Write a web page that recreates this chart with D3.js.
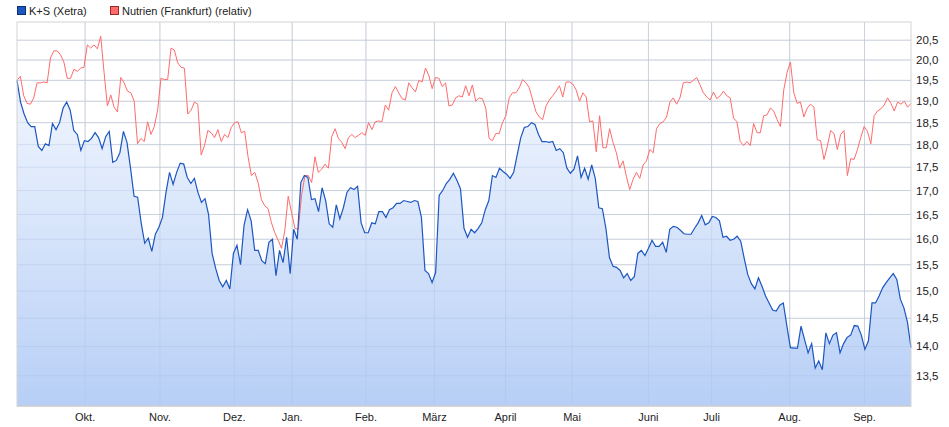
<!DOCTYPE html>
<html>
<head>
<meta charset="utf-8">
<script src="https://cdn.jsdelivr.net/npm/d3@7"></script>
<style>
  body { margin: 0; background: #fff; font-family: "Liberation Sans", Arial, sans-serif; }
</style>
</head>
<body>
<svg id="chart" width="949" height="427"></svg>
<script>
// K+S (Xetra), values in EUR, one per trading day (approx.)
const ksValues = [19.5,18.98,18.7,18.5,18.41,18.41,17.96,17.87,18.02,17.98,18.48,18.34,18.5,18.84,18.98,18.79,18.32,18.23,17.87,18.09,18.07,18.14,18.27,18.16,17.91,18.18,18.3,17.61,17.65,17.82,18.3,18.05,17.48,16.88,16.86,16.33,15.92,16.02,15.76,16.1,16.24,16.44,16.96,17.39,17.13,17.39,17.59,17.57,17.28,17.15,17.26,16.96,16.75,16.83,16.5,15.72,15.43,15.2,15.08,15.2,15.04,15.72,15.88,15.5,16.28,16.6,16.37,15.78,
  15.78,15.58,15.52,15.94,16.0,15.29,15.78,15.54,16.04,15.33,16.2,16.0,17.17,17.32,17.28,16.81,16.83,16.56,17.06,16.79,16.31,16.24,16.7,16.41,16.64,16.96,17.06,17.02,17.09,16.33,16.13,16.13,16.33,16.31,16.56,16.56,16.44,16.6,16.64,16.73,16.73,16.79,16.77,16.75,16.79,16.77,16.44,15.39,15.33,15.16,15.35,16.9,17.0,17.15,
  17.24,17.37,17.22,17.04,16.22,16.04,16.2,16.13,16.22,16.33,16.6,16.79,17.32,17.28,17.48,17.41,17.35,17.26,17.39,17.77,18.16,18.39,18.41,18.5,18.46,18.23,18.07,18.07,18.05,18.07,17.87,17.91,17.82,17.48,17.37,17.46,17.75,17.28,17.48,17.24,17.55,17.26,16.64,16.62,16.22,15.64,15.47,15.45,15.39,15.25,15.33,15.2,15.27,15.72,15.78,15.68,15.82,15.98,15.86,15.86,15.94,15.74,16.2,16.26,16.24,16.18,16.11,
  16.1,16.1,16.22,16.33,16.48,16.29,16.33,16.46,16.44,16.37,16.04,16.06,15.98,16.0,16.06,15.96,15.62,15.31,15.14,15.04,15.25,15.09,14.91,14.78,14.65,14.63,14.74,14.78,14.37,13.98,13.97,13.97,14.36,14.12,13.89,14.05,13.63,13.75,13.6,14.24,14.05,14.2,14.24,13.89,14.05,14.16,14.2,14.37,14.36,14.2,13.95,14.1,14.78,14.78,14.91,15.06,15.16,15.25,15.33,15.22,14.85,14.69,14.43,13.98];

// Nutrien (Frankfurt), relative to K+S start
const nutrienValues = [19.5,19.6,19.13,18.95,18.93,19.08,19.44,19.44,19.46,19.44,20.05,20.23,20.23,20.13,19.95,19.55,19.55,19.77,19.72,19.8,19.82,20.38,20.3,20.38,20.28,20.6,19.7,18.89,19.15,18.86,18.75,19.57,19.44,19.24,19.2,19.0,18.02,18.14,18.07,18.52,18.23,18.41,18.79,19.55,19.52,19.52,20.3,20.25,19.93,19.82,19.8,18.7,18.79,18.98,18.93,17.77,17.98,18.32,18.27,18.16,18.34,18.07,18.23,18.16,18.39,18.5,18.52,18.27,
  18.3,17.73,17.32,17.39,17.17,16.81,16.68,16.62,16.33,16.13,15.98,15.82,16.18,16.88,16.54,16.22,16.2,16.9,17.32,17.32,17.17,17.73,17.39,17.46,17.57,17.48,18.18,18.36,18.14,18.05,17.91,18.16,18.23,18.16,18.21,18.27,18.21,18.5,18.34,18.52,18.54,18.52,18.91,18.79,19.2,19.35,19.2,19.06,19.03,19.44,19.32,19.22,19.5,19.46,19.8,19.62,19.3,19.57,19.55,19.35,19.44,18.89,18.91,19.08,19.13,19.1,19.37,19.13,
  19.39,19.0,19.08,19.06,18.84,18.14,18.09,18.25,18.25,18.5,18.66,19.08,19.2,19.2,19.32,19.52,19.44,19.32,19.03,18.75,18.63,18.57,18.89,19.03,19.13,19.24,19.37,19.1,19.46,19.46,19.41,19.27,19.0,19.2,19.1,18.52,18.54,17.84,18.66,17.93,17.93,18.36,18.05,17.82,17.48,17.64,17.3,17.02,17.24,17.39,17.26,17.55,17.64,17.89,17.82,18.36,18.48,18.52,18.63,18.98,19.08,18.93,19.08,19.44,19.46,19.44,19.5,19.57,
  19.39,19.2,19.1,19.03,19.22,19.06,19.13,19.24,19.13,19.08,18.61,18.52,18.07,17.98,18.07,17.98,18.48,18.27,18.27,18.66,18.68,18.84,18.77,18.57,18.41,19.27,19.7,19.95,19.2,18.95,18.98,18.63,18.84,18.93,18.86,18.11,18.09,17.67,17.96,18.32,18.25,17.89,18.23,18.32,17.32,17.69,17.67,17.89,18.16,18.41,18.3,18.02,18.66,18.77,18.82,18.91,19.08,18.95,18.77,18.98,18.93,19.0,18.86,18.95];

const tradingDays = 269;
const monthLabels = ["Okt.", "Nov.", "Dez.", "Jan.", "Feb.", "März", "April", "Mai", "Juni", "Juli", "Aug.", "Sep."];
const monthStarts = [20.5, 43, 65.4, 82.8, 105, 125.6, 147, 167, 190, 209, 232.5, 255];
const yTicks = [13.5, 14, 14.5, 15, 15.5, 16, 16.5, 17, 17.5, 18, 18.5, 19, 19.5, 20, 20.5];

const margin = { top: 22, right: 38, bottom: 21, left: 17 };
const width = 949 - margin.left - margin.right;
const height = 427 - margin.top - margin.bottom;

const svg = d3.select("#chart");
const g = svg.append("g").attr("transform", `translate(${margin.left},${margin.top})`);

const x = d3.scaleLinear().domain([0, tradingDays]).range([0, width]);
const y = d3.scaleLog().domain([13.0, 20.97]).range([height, 0]);

const fmt = v => d3.format(".1f")(v).replace(".", ",");

// gradient for area under K+S
const grad = svg.append("defs").append("linearGradient")
    .attr("id", "ksFill").attr("x1", 0).attr("y1", 0).attr("x2", 0).attr("y2", 1)
    .attr("gradientUnits", "userSpaceOnUse")
    .attr("y1", y(18.5)).attr("y2", height);
grad.append("stop").attr("offset", 0).attr("stop-color", "#eaf1fd");
grad.append("stop").attr("offset", 1).attr("stop-color", "#b7cff6");

// grid
g.selectAll(".hgrid").data(yTicks).enter().append("line")
    .attr("x1", 0).attr("x2", width)
    .attr("y1", d => y(d)).attr("y2", d => y(d))
    .attr("stroke", "#dcdcdc");
g.selectAll(".vgrid").data(monthStarts).enter().append("line")
    .attr("x1", d => x(d)).attr("x2", d => x(d))
    .attr("y1", 0).attr("y2", height)
    .attr("stroke", "#dcdcdc");

const ksX = d3.scaleLinear().domain([0, ksValues.length - 1]).range([0, tradingDays]);
const nuX = d3.scaleLinear().domain([0, nutrienValues.length - 1]).range([0, tradingDays]);

const area = d3.area()
    .x((d, i) => x(ksX(i)))
    .y0(height)
    .y1(d => y(d));
g.append("path").datum(ksValues).attr("d", area).attr("fill", "url(#ksFill)");

// redraw grid lines faintly over the fill
g.selectAll(".hgrid2").data(yTicks).enter().append("line")
    .attr("x1", 0).attr("x2", width)
    .attr("y1", d => y(d)).attr("y2", d => y(d))
    .attr("stroke", "#a9bde0").attr("stroke-opacity", 0.35);
g.selectAll(".vgrid2").data(monthStarts).enter().append("line")
    .attr("x1", d => x(d)).attr("x2", d => x(d))
    .attr("y1", 0).attr("y2", height)
    .attr("stroke", "#a9bde0").attr("stroke-opacity", 0.35);

g.append("path").datum(nutrienValues)
    .attr("d", d3.line().x((d, i) => x(nuX(i))).y(d => y(d)))
    .attr("fill", "none").attr("stroke", "#ff6b6b").attr("stroke-width", 1);

g.append("path").datum(ksValues)
    .attr("d", d3.line().x((d, i) => x(ksX(i))).y(d => y(d)))
    .attr("fill", "none").attr("stroke", "#1c56c0").attr("stroke-width", 1.2);

// frame
g.append("rect").attr("width", width).attr("height", height)
    .attr("fill", "none").attr("stroke", "#d4d4d4");
g.append("line").attr("x1", 0).attr("x2", width).attr("y1", height).attr("y2", height)
    .attr("stroke", "#c8c8c8");

// y labels (right)
g.selectAll(".ylab").data(yTicks).enter().append("text")
    .attr("x", width + 5).attr("y", d => y(d) + 4)
    .attr("font-size", "11.5px").attr("fill", "#222")
    .text(fmt);

// x labels
g.selectAll(".xlab").data(monthStarts).enter().append("text")
    .attr("x", d => x(d)).attr("y", height + 15)
    .attr("text-anchor", "middle").attr("font-size", "11px").attr("fill", "#222")
    .text((d, i) => monthLabels[i]);

// legend
const legend = [
    { label: "K+S (Xetra)", color: "#1c56c0", stroke: "#0d2f73", x: 17 },
    { label: "Nutrien (Frankfurt) (relativ)", color: "#ff6b6b", stroke: "#9a2b2b", x: 110 }
];
legend.forEach(l => {
    svg.append("rect").attr("x", l.x + 0.5).attr("y", 6.5).attr("width", 8).attr("height", 8)
        .attr("fill", l.color).attr("stroke", l.stroke);
    svg.append("text").attr("x", l.x + 12).attr("y", 15)
        .attr("font-size", "11px").attr("fill", "#222").text(l.label);
});
</script>
</body>
</html>
